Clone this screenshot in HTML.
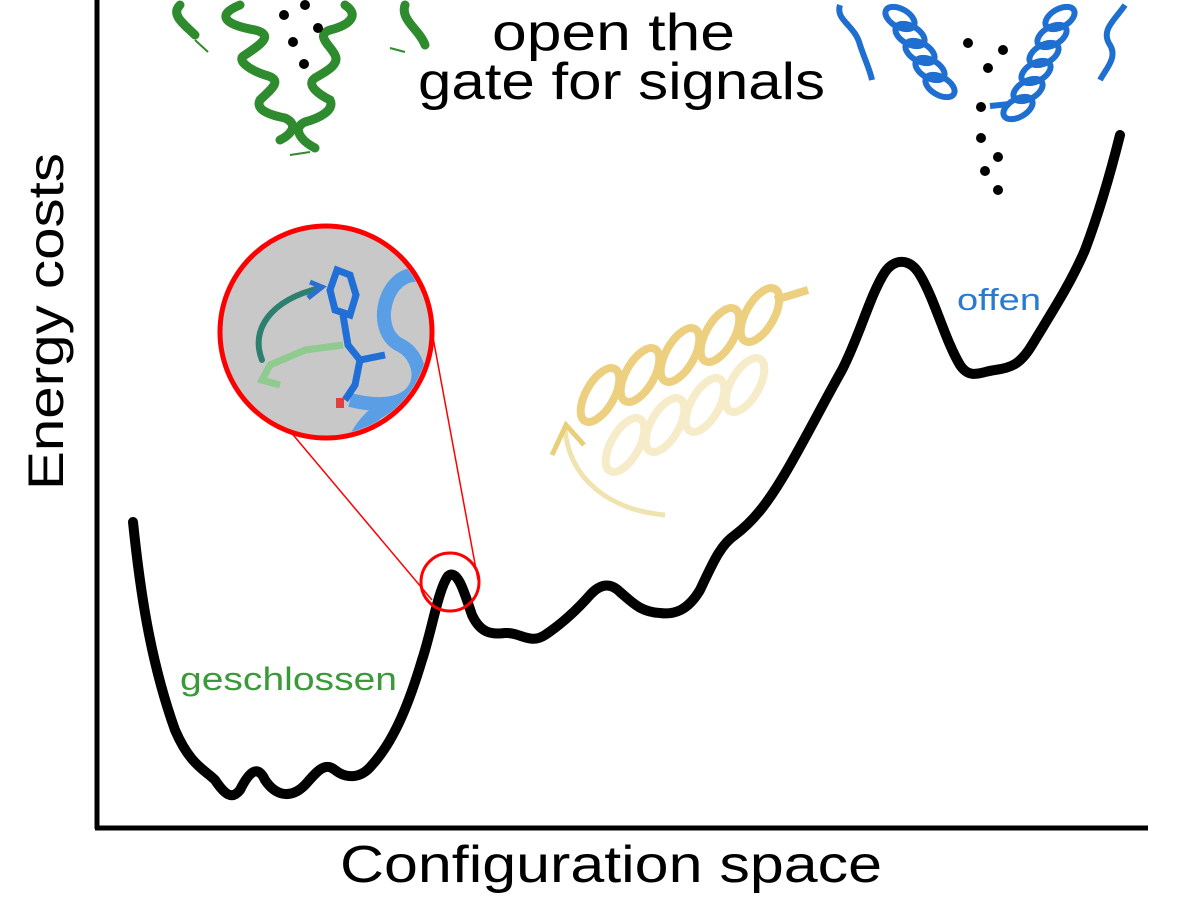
<!DOCTYPE html>
<html><head><meta charset="utf-8"><style>html,body{margin:0;padding:0;background:#fff}svg{display:block}</style></head>
<body>
<svg width="1200" height="900" viewBox="0 0 1200 900" xmlns="http://www.w3.org/2000/svg" font-family="'Liberation Sans', sans-serif">
<!-- axes -->
<line x1="97" y1="0" x2="97" y2="829" stroke="#000" stroke-width="5"/>
<line x1="95" y1="828" x2="1148" y2="828" stroke="#000" stroke-width="5"/>
<text transform="translate(63,490) rotate(-90)" font-size="50" textLength="337" lengthAdjust="spacingAndGlyphs">Energy costs</text>
<text x="340" y="882" font-size="52" textLength="542" lengthAdjust="spacingAndGlyphs">Configuration space</text>
<text x="492" y="50" font-size="52" textLength="243" lengthAdjust="spacingAndGlyphs">open the</text>
<text x="418" y="99" font-size="52" textLength="407" lengthAdjust="spacingAndGlyphs">gate for signals</text>
<text x="180" y="690" font-size="32" fill="#3a9a3a" textLength="217" lengthAdjust="spacingAndGlyphs">geschlossen</text>
<text x="957" y="310" font-size="31" fill="#2a7ad0" textLength="84" lengthAdjust="spacingAndGlyphs">offen</text>

<!-- energy curve -->
<path d="M133,522 C140,590 150,660 175,730 C190,765 205,770 215,780 C225,795 232,800 240,790 C250,770 258,765 265,780 C275,795 290,800 305,785 C318,770 325,762 335,770 C345,778 360,780 372,765 C395,740 410,700 422,660 C432,630 438,590 448,576 C458,568 465,595 472,615 C480,632 490,635 505,633 C520,632 530,645 545,635 C560,625 575,612 590,595 C600,584 610,582 620,592 C632,602 640,612 660,613 C675,615 688,610 700,590 C712,565 720,545 735,535 C755,520 770,500 790,465 C810,430 825,400 842,370 C860,335 870,295 885,272 C895,258 910,258 920,275 C935,300 945,340 960,365 C970,380 980,372 995,370 C1010,368 1020,365 1032,345 C1050,315 1070,285 1085,250 C1100,210 1110,175 1120,135" fill="none" stroke="#000" stroke-width="10" stroke-linecap="round" stroke-linejoin="round"/>

<!-- zoom callout -->
<line x1="268" y1="405" x2="432" y2="600" stroke="#f00" stroke-width="1.5"/>
<line x1="432" y1="332" x2="478" y2="580" stroke="#f00" stroke-width="1.5"/>
<circle cx="450" cy="582" r="29" fill="none" stroke="#f00" stroke-width="3"/>
<circle cx="326" cy="332" r="106" fill="#c8c8c8" stroke="#f00" stroke-width="5"/>
<clipPath id="cc"><circle cx="326" cy="332" r="103"/></clipPath>
<g clip-path="url(#cc)">
<path d="M420,275 C385,270 370,330 400,345 C430,360 430,420 350,400 M355,440 C380,390 420,410 420,380" fill="none" stroke="#5a9fe6" stroke-width="14"/>
<path d="M337,270 L330,290 L335,310 L350,315 L356,295 L350,275 Z" fill="none" stroke="#1f6fd6" stroke-width="7"/>
<path d="M343,315 L348,345 L360,360 L385,355 M360,360 L355,385 L345,400" fill="none" stroke="#1f6fd6" stroke-width="7"/>
<path d="M343,345 L305,350 L270,365 L262,380 L280,385" fill="none" stroke="#8fca8f" stroke-width="7"/>
<path d="M262,360 C250,330 270,300 320,288" fill="none" stroke="#2d8070" stroke-width="6" stroke-linecap="round"/>
<path d="M310,282 L322,287 L308,298" fill="none" stroke="#2d6fd0" stroke-width="5"/>
<rect x="336" y="398" width="8" height="10" fill="#e04040"/>
</g>

<!-- yellow helix -->
<g fill="none" stroke-width="8">
<g stroke="#f3e4b4" opacity="0.7" transform="translate(25,50)">
<ellipse cx="600" cy="395" rx="14" ry="30" transform="rotate(30 600 395)"/>
<ellipse cx="640" cy="375" rx="14" ry="30" transform="rotate(30 640 375)"/>
<ellipse cx="680" cy="355" rx="14" ry="30" transform="rotate(30 680 355)"/>
<ellipse cx="720" cy="335" rx="14" ry="30" transform="rotate(30 720 335)"/>
</g>
<g stroke="#ecd080">
<ellipse cx="600" cy="395" rx="14" ry="30" transform="rotate(30 600 395)"/>
<ellipse cx="640" cy="375" rx="14" ry="30" transform="rotate(30 640 375)"/>
<ellipse cx="680" cy="355" rx="14" ry="30" transform="rotate(30 680 355)"/>
<ellipse cx="720" cy="335" rx="14" ry="30" transform="rotate(30 720 335)"/>
<ellipse cx="760" cy="315" rx="14" ry="30" transform="rotate(30 760 315)"/>
<path d="M775,300 L808,290"/>
</g>
<path d="M665,515 C610,510 570,480 565,430" stroke="#efe3b0" stroke-width="5"/>
<path d="M552,455 L566,425 L584,445" stroke="#e9cf7a" stroke-width="5"/>
</g>

<!-- green helices -->
<g fill="none" stroke="#2e8b2e" stroke-width="9" stroke-linecap="round">
<path d="M240,5 C215,15 225,25 255,30 C275,35 260,45 245,55 C235,60 250,70 265,75 C285,80 270,90 260,100 C255,110 270,115 285,118 C300,125 290,135 280,140"/>
<path d="M345,5 C360,15 350,25 330,30 C315,35 330,45 335,55 C340,65 325,72 315,78 C305,85 320,95 330,100 C335,110 320,118 305,122 C292,128 300,140 315,148"/>
<path d="M180,5 C170,15 185,25 195,35 M405,5 C400,20 420,30 425,45"/>
</g>
<g stroke="#2e8b2e" stroke-width="2"><line x1="195" y1="40" x2="208" y2="52"/><line x1="405" y1="52" x2="390" y2="48"/><line x1="290" y1="155" x2="310" y2="152"/></g>

<!-- blue helices -->
<g fill="none" stroke="#1e6fd0" stroke-width="6">
<ellipse cx="900" cy="18" rx="16" ry="9" transform="rotate(30 900 18)"/>
<ellipse cx="910" cy="35" rx="16" ry="9" transform="rotate(30 910 35)"/>
<ellipse cx="920" cy="52" rx="16" ry="9" transform="rotate(30 920 52)"/>
<ellipse cx="930" cy="69" rx="16" ry="9" transform="rotate(30 930 69)"/>
<ellipse cx="940" cy="86" rx="16" ry="9" transform="rotate(30 940 86)"/>
<ellipse cx="1060" cy="18" rx="16" ry="9" transform="rotate(-30 1060 18)"/>
<ellipse cx="1052" cy="36" rx="16" ry="9" transform="rotate(-30 1052 36)"/>
<ellipse cx="1044" cy="54" rx="16" ry="9" transform="rotate(-30 1044 54)"/>
<ellipse cx="1036" cy="72" rx="16" ry="9" transform="rotate(-30 1036 72)"/>
<ellipse cx="1028" cy="90" rx="16" ry="9" transform="rotate(-30 1028 90)"/>
<ellipse cx="1018" cy="108" rx="16" ry="9" transform="rotate(-30 1018 108)"/>
<path d="M990,106 L1010,104"/>
<path d="M840,5 C835,20 855,25 860,45 C865,60 870,70 872,80 M1125,5 C1115,20 1100,30 1110,45 C1118,58 1105,70 1100,80"/>
</g>
<!-- dots -->
<g fill="#000">
<circle cx="305" cy="5" r="5"/><circle cx="284" cy="15" r="5"/><circle cx="318" cy="28" r="5"/><circle cx="293" cy="42" r="5"/><circle cx="304" cy="64" r="5"/>
<circle cx="968" cy="43" r="5"/><circle cx="1003" cy="50" r="5"/><circle cx="988" cy="68" r="5"/><circle cx="981" cy="107" r="5"/><circle cx="981" cy="138" r="5"/><circle cx="998" cy="157" r="5"/><circle cx="985" cy="171" r="5"/><circle cx="998" cy="190" r="5"/>
</g>
</svg>
</body></html>
